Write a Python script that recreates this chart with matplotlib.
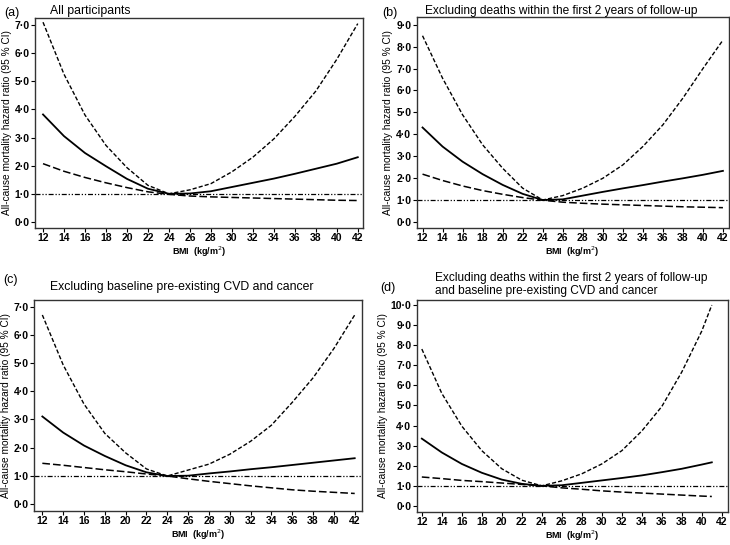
import matplotlib.pyplot as plt

plt.rcParams['font.family'] = ['Liberation Sans', 'DejaVu Sans']

# BMI values (every 2 kg/m2)
bmi = [12, 14, 16, 18, 20, 22, 24, 26, 28, 30, 32, 34, 36, 38, 40, 42]
bmi_d = [12, 14, 16, 18, 20, 22, 24, 26, 28, 30, 32, 34, 36, 38, 40, 41]

# (a) all participants
hr_a = [3.82, 3.05, 2.45, 1.98, 1.53, 1.18, 1.0, 1.01, 1.09, 1.24, 1.39, 1.54, 1.71, 1.89, 2.07, 2.3]
up_a = [7.1, 5.25, 3.8, 2.72, 1.93, 1.3, 1.0, 1.14, 1.36, 1.78, 2.3, 2.95, 3.75, 4.65, 5.78, 7.05]
lo_a = [2.07, 1.8, 1.58, 1.39, 1.22, 1.07, 0.98, 0.92, 0.89, 0.87, 0.85, 0.83, 0.81, 0.79, 0.77, 0.76]

# (b) excluding deaths within first 2 years
hr_b = [4.31, 3.44, 2.75, 2.18, 1.69, 1.28, 1.0, 1.03, 1.2, 1.37, 1.53, 1.68, 1.84, 1.99, 2.15, 2.33]
up_b = [8.5, 6.56, 4.89, 3.52, 2.45, 1.54, 1.0, 1.2, 1.54, 1.99, 2.6, 3.44, 4.43, 5.65, 7.0, 8.3]
lo_b = [2.18, 1.89, 1.64, 1.43, 1.26, 1.11, 0.99, 0.9, 0.85, 0.81, 0.78, 0.75, 0.72, 0.69, 0.67, 0.65]

# (c) excluding baseline CVD and cancer
hr_c = [3.1, 2.53, 2.07, 1.7, 1.37, 1.12, 0.99, 1.0, 1.08, 1.15, 1.23, 1.3, 1.38, 1.46, 1.54, 1.62]
up_c = [6.7, 4.93, 3.54, 2.5, 1.81, 1.24, 0.99, 1.2, 1.41, 1.76, 2.22, 2.79, 3.6, 4.47, 5.51, 6.7]
lo_c = [1.44, 1.37, 1.29, 1.21, 1.14, 1.06, 0.99, 0.89, 0.8, 0.72, 0.64, 0.57, 0.5, 0.45, 0.41, 0.37]

# (d) excluding both
hr_d = [3.35, 2.66, 2.09, 1.65, 1.31, 1.1, 1.0, 1.03, 1.15, 1.27, 1.39, 1.52, 1.68, 1.85, 2.06, 2.17]
up_d = [7.81, 5.6, 3.97, 2.75, 1.85, 1.28, 1.0, 1.25, 1.6, 2.09, 2.75, 3.73, 4.95, 6.67, 8.71, 10.0]
lo_d = [1.44, 1.36, 1.27, 1.21, 1.14, 1.07, 1.0, 0.9, 0.83, 0.75, 0.69, 0.64, 0.59, 0.54, 0.49, 0.47]

xticks = list(range(12, 43, 2))

panels = [
    (bmi, hr_a, up_a, lo_a, 7, [0.048, 0.582, 0.449, 0.385], (11.24, 42.48), (-0.21, 7.25)),
    (bmi, hr_b, up_b, lo_b, 9, [0.571, 0.582, 0.427, 0.387], (11.43, 42.56), (-0.27, 9.36)),
    (bmi, hr_c, up_c, lo_c, 7, [0.0466, 0.063, 0.449, 0.387], (11.2, 42.68), (-0.24, 7.24)),
    (bmi_d, hr_d, up_d, lo_d, 10, [0.571, 0.061, 0.426, 0.3885], (11.5, 42.6), (-0.29, 10.25)),
]

fig = plt.figure(figsize=(7.3, 5.45), dpi=100)

for x, hr, up, lo, ymax, pos, xl, yl in panels:
    ax = fig.add_axes(pos)
    ax.plot(x, up, color='black', lw=1.0, ls=(0, (3, 1.5)))
    ax.plot(x, hr, color='black', lw=1.3, ls='-')
    ax.plot(x, lo, color='black', lw=1.1, ls=(0, (5, 2)))
    ax.axhline(1.0, color='black', lw=0.9, ls=(0, (4, 1.5, 1, 1.5, 1, 1.5)))
    ax.set_xlim(*xl)
    ax.set_ylim(*yl)
    ax.set_xticks(xticks)
    ax.set_xticklabels([str(t) for t in xticks], fontsize=7.5, fontweight='bold')
    yt = list(range(0, ymax + 1))
    ax.set_yticks(yt)
    ax.set_yticklabels([f'{v}\u00b70' for v in yt], fontsize=7.5, fontweight='bold')
    ax.tick_params(direction='out', length=3, width=0.8, pad=1)
    for s in ax.spines.values():
        s.set_linewidth(1.0)
        s.set_color('#333333')
    ax.set_xlabel('BMI  (kg/m$^2$)', fontsize=6.5, fontweight='bold', labelpad=1)
    ax.set_ylabel('All-cause mortality hazard ratio (95 % CI)', fontsize=7.3, labelpad=2)

fig.text(0.006, 0.987, '(a)', fontsize=9, va='top')
fig.text(0.068, 0.990, 'All participants', fontsize=8.8, va='top')
fig.text(0.524, 0.987, '(b)', fontsize=9, va='top')
fig.text(0.582, 0.990, 'Excluding deaths within the first 2 years of follow-up', fontsize=8.6, va='top')
fig.text(0.004, 0.498, '(c)', fontsize=9, va='top')
fig.text(0.068, 0.484, 'Excluding baseline pre-existing CVD and cancer', fontsize=8.8, va='top')
fig.text(0.521, 0.482, '(d)', fontsize=9, va='top')
fig.text(0.596, 0.500, 'Excluding deaths within the first 2 years of follow-up\nand baseline pre-existing CVD and cancer',
         fontsize=8.6, va='top', linespacing=1.05)

fig.savefig('out.png', dpi=100)
